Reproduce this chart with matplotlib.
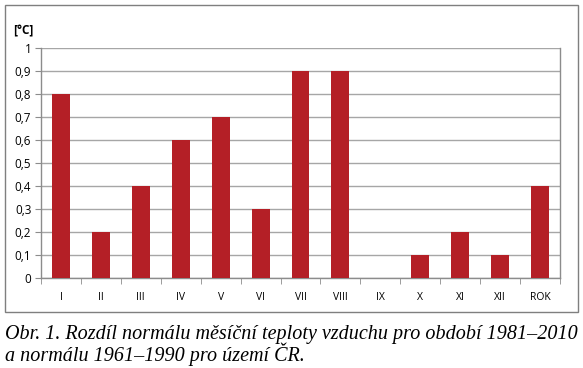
import numpy as np
import matplotlib.pyplot as plt
from matplotlib.patches import Rectangle

# data
months = ['I', 'II', 'III', 'IV', 'V', 'VI', 'VII', 'VIII', 'IX', 'X', 'XI', 'XII', 'ROK']
diff = [0.8, 0.2, 0.4, 0.6, 0.7, 0.3, 0.9, 0.9, 0.0, 0.1, 0.2, 0.1, 0.4]
yticks = [0, 0.1, 0.2, 0.3, 0.4, 0.5, 0.6, 0.7, 0.8, 0.9, 1]

W, H = 583, 368
fig = plt.figure(figsize=(W / 100, H / 100), dpi=100)
fig.patch.set_facecolor('white')

# outer chart frame
fig.patches.append(Rectangle((5 / W, 1 - 312 / H), 573 / W, 307 / H,
                             transform=fig.transFigure, fill=False,
                             edgecolor='#7f7f7f', lw=1.0))

ax = fig.add_axes([41 / W, 1 - 278 / H, 519 / W, 230 / H])
x = np.arange(len(months))
ax.bar(x, diff, width=0.45, color='#b41f26', zorder=3)

ax.set_xlim(-0.5, len(months) - 0.5)
ax.set_ylim(0, 1)
ax.set_yticks(yticks)
ax.set_yticklabels([('%g' % v).replace('.', ',') for v in yticks],
                   fontsize=8.5, family='Open Sans')
ax.yaxis.grid(True, color='#a6a6a6', lw=1.0, zorder=0)

ax.set_xticks(x)
ax.set_xticklabels(months, fontsize=7.5, family='Open Sans')
ax.set_xticks(np.arange(-0.5, len(months)), minor=True)
ax.tick_params(axis='x', which='major', length=0, pad=10)
ax.tick_params(axis='x', which='minor', length=4, color='#8c8c8c', direction='out')
ax.tick_params(axis='y', length=4, color='#8c8c8c', pad=3)

for s in ['left', 'bottom', 'right', 'top']:
    ax.spines[s].set_color('#8c8c8c')
    ax.spines[s].set_linewidth(1.0)
ax.spines['top'].set_visible(False)

fig.text(13 / W, 1 - 31 / H, '[°C]', fontsize=8.5, family='Open Sans',
         fontweight='bold', va='center')

fig.text(5 / W, 1 - 339 / H,
         'Obr. 1. Rozdíl normálu měsíční teploty vzduchu pro období 1981–2010',
         fontsize=14.5, family='Liberation Serif', style='italic', va='baseline')
fig.text(5 / W, 1 - 361 / H,
         'a normálu 1961–1990 pro území ČR.',
         fontsize=14.5, family='Liberation Serif', style='italic', va='baseline')

fig.savefig('out.png', dpi=100)
